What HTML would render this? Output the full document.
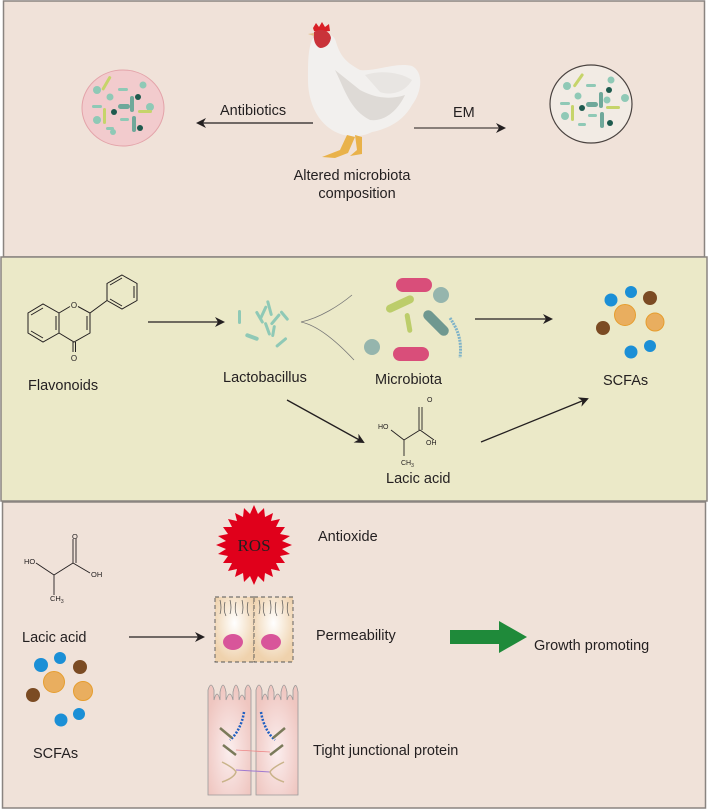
<!DOCTYPE html>
<html><head><meta charset="utf-8"><style>
html,body{margin:0;padding:0;background:#fff}
svg{display:block}
text{font-family:"Liberation Sans",sans-serif;fill:#231f20}
</style></head><body>
<svg width="708" height="810" viewBox="0 0 708 810" xmlns="http://www.w3.org/2000/svg">
<defs>
<marker id="ah" markerWidth="10" markerHeight="10" refX="8" refY="5" orient="auto" markerUnits="userSpaceOnUse"><path d="M0,0 L10,5 L0,10 L3,5 Z" fill="#231f20"/></marker>
<radialGradient id="cg" cx="50%" cy="40%" r="60%"><stop offset="0" stop-color="#fff"/><stop offset="1" stop-color="#efd2ad"/></radialGradient>
<radialGradient id="vg" cx="50%" cy="60%" r="60%"><stop offset="0" stop-color="#fbeeee"/><stop offset="1" stop-color="#efc6c0"/></radialGradient>
</defs>
<rect x="0" y="0" width="708" height="810" fill="#fff"/>
<rect x="3.5" y="1" width="701" height="256" fill="#f0e2d9" stroke="#8a8480" stroke-width="1.5"/>
<rect x="1" y="257" width="706" height="244" fill="#ebe9c8" stroke="#8a8480" stroke-width="1.5"/>
<rect x="2.5" y="502" width="703" height="306" fill="#f0e2d9" stroke="#8a8480" stroke-width="1.5"/>

<!-- TOP -->
<ellipse cx="123" cy="108" rx="41" ry="38" fill="#f2cbcd" stroke="#e3a3a9" stroke-width="1"/>
<g fill="#8fc9b6">
<circle cx="97" cy="90" r="4"/><circle cx="110" cy="97" r="3.5"/><circle cx="143" cy="85" r="3.5"/><circle cx="97" cy="120" r="4"/><circle cx="150" cy="107" r="4"/><circle cx="113" cy="132" r="3"/>
<rect x="92" y="105" width="10" height="3" rx="1.5"/><rect x="118" y="88" width="10" height="3" rx="1.5"/><rect x="120" y="118" width="9" height="3" rx="1.5"/><rect x="106" y="127" width="8" height="3" rx="1.5"/>
<rect x="130" y="96" width="4" height="16" rx="2" fill="#6fa89a"/><rect x="132" y="116" width="4" height="16" rx="2" fill="#6fa89a"/><rect x="118" y="104" width="12" height="5" rx="2.5" fill="#6fa89a"/>
</g>
<rect x="105" y="75" width="3" height="16" rx="1.5" fill="#c6d46a" transform="rotate(30 106 83)"/>
<rect x="103" y="108" width="3" height="16" rx="1.5" fill="#c6d46a"/>
<rect x="138" y="110" width="14" height="3" rx="1.5" fill="#c6d46a"/>
<circle cx="138" cy="97" r="3" fill="#1e5a4e"/><circle cx="114" cy="112" r="3" fill="#1e5a4e"/><circle cx="140" cy="128" r="3" fill="#1e5a4e"/>

<ellipse cx="591" cy="104" rx="41" ry="39" fill="#f2ebe4" stroke="#4a4340" stroke-width="1.2"/>
<g fill="#8fc9b6">
<circle cx="567" cy="86" r="4"/><circle cx="578" cy="96" r="3.5"/><circle cx="611" cy="80" r="3.5"/><circle cx="565" cy="116" r="4"/><circle cx="625" cy="98" r="4"/><circle cx="607" cy="100" r="3.5"/>
<rect x="560" y="102" width="10" height="3" rx="1.5"/><rect x="586" y="84" width="10" height="3" rx="1.5"/><rect x="588" y="114" width="9" height="3" rx="1.5"/><rect x="578" y="123" width="8" height="3" rx="1.5"/>
<rect x="599" y="92" width="4" height="16" rx="2" fill="#6fa89a"/><rect x="600" y="112" width="4" height="16" rx="2" fill="#6fa89a"/><rect x="586" y="102" width="12" height="5" rx="2.5" fill="#6fa89a"/>
</g>
<rect x="577" y="72" width="3" height="16" rx="1.5" fill="#c6d46a" transform="rotate(35 578 80)"/>
<rect x="571" y="105" width="3" height="16" rx="1.5" fill="#c6d46a"/>
<rect x="606" y="106" width="14" height="3" rx="1.5" fill="#c6d46a"/>
<circle cx="609" cy="90" r="3" fill="#1e5a4e"/><circle cx="582" cy="108" r="3" fill="#1e5a4e"/><circle cx="610" cy="123" r="3" fill="#1e5a4e"/>

<line x1="313" y1="123" x2="198" y2="123" stroke="#231f20" stroke-width="1.3" marker-end="url(#ah)"/>
<text x="220" y="115" font-size="14.5">Antibiotics</text>
<line x1="414" y1="128" x2="504" y2="128" stroke="#4a4340" stroke-width="1.3" marker-end="url(#ah)"/>
<text x="453" y="117" font-size="14.5">EM</text>

<!-- chicken -->
<g>
<path d="M312,40 C318,30 334,32 336,42 C340,55 345,62 360,70 C375,72 395,62 412,66 C424,72 422,92 412,105 C405,118 392,128 372,132 C360,138 345,138 332,130 C316,120 308,100 308,80 C308,62 308,50 312,40 Z" fill="#f2f0ee"/>
<path d="M335,70 C345,90 350,110 370,120 C385,122 398,110 405,95 C390,100 375,98 360,90 Z" fill="#dedad6"/>
<path d="M365,75 C380,70 400,72 412,80 C405,92 392,96 380,92 Z" fill="#e8e5e2"/>
<path d="M313,28 L316,23 L319,27 L322,22 L325,27 L329,24 L330,31 L320,32 L314,31 Z" fill="#d91f26"/>
<path d="M314,32 C320,28 330,30 331,38 C330,44 326,48 320,48 C315,46 313,40 314,32 Z" fill="#c9333a"/>
<path d="M308,34 L314,33 L314,36 Z" fill="#e2c08a"/>
<path d="M347,135 L340,150 L322,157 L335,158 L348,153 L355,137 Z" fill="#e9b24a"/>
<path d="M355,135 L357,150 L350,156 L362,154 L362,137 Z" fill="#e9b24a"/>
</g>
<text x="352" y="180" font-size="14.5" text-anchor="middle">Altered microbiota</text>
<text x="357" y="198" font-size="14.5" text-anchor="middle">composition</text>

<!-- MIDDLE: flavone -->
<g stroke="#231f20" stroke-width="1" fill="none">
<polygon points="59,313 59,333 43,342 28,333 28,313 43,304"/>
<line x1="31" y1="315" x2="43" y2="308"/><line x1="31" y1="331" x2="43" y2="338"/><line x1="56" y1="316" x2="56" y2="330"/>
<polyline points="59,313 70,306.5"/><polyline points="78,306.5 90,313 90,333 74,342 59,333"/>
<line x1="87" y1="316" x2="87" y2="330"/>
<line x1="90" y1="313" x2="107" y2="300.5"/>
<polygon points="122,275 137,283.5 137,300.5 122,309 107,300.5 107,283.5"/>
<line x1="110" y1="285" x2="122" y2="278"/><line x1="134" y1="286" x2="134" y2="298"/><line x1="110" y1="299" x2="122" y2="306"/>
<line x1="73" y1="342" x2="73" y2="352"/><line x1="75.5" y1="342" x2="75.5" y2="352"/>
</g>
<text x="74" y="308" font-size="8" text-anchor="middle">O</text>
<text x="74" y="361" font-size="8" text-anchor="middle">O</text>
<text x="28" y="390" font-size="14.5">Flavonoids</text>

<line x1="148" y1="322" x2="223" y2="322" stroke="#231f20" stroke-width="1.3" marker-end="url(#ah)"/>
<g fill="#8fc9b6">
<rect x="238" y="310" width="3" height="14" rx="1.5"/><rect x="245" y="335" width="14" height="4" rx="2" transform="rotate(20 252 337)"/>
<rect x="258" y="310" width="3" height="14" rx="1.5" transform="rotate(-30 260 317)"/>
<rect x="262" y="305" width="3" height="15" rx="1.5" transform="rotate(25 263 312)"/>
<rect x="268" y="300" width="3" height="16" rx="1.5" transform="rotate(-15 270 308)"/>
<rect x="274" y="312" width="3" height="14" rx="1.5" transform="rotate(40 275 319)"/>
<rect x="266" y="322" width="3" height="14" rx="1.5" transform="rotate(-20 267 329)"/>
<rect x="280" y="335" width="3" height="14" rx="1.5" transform="rotate(50 281 342)"/>
<rect x="283" y="310" width="3" height="12" rx="1.5" transform="rotate(-40 284 316)"/>
<rect x="272" y="325" width="3" height="12" rx="1.5" transform="rotate(10 273 331)"/>
</g>
<text x="223" y="382" font-size="14.5">Lactobacillus</text>
<path d="M301,322 C320,318 340,305 352,295" stroke="#777" stroke-width="0.8" fill="none"/>
<path d="M301,322 C320,326 340,345 354,360" stroke="#777" stroke-width="0.8" fill="none"/>

<rect x="396" y="278" width="36" height="14" rx="7" fill="#d94e7a"/>
<rect x="393" y="347" width="36" height="14" rx="7" fill="#d94e7a"/>
<circle cx="441" cy="295" r="8" fill="#95b5ad"/><circle cx="372" cy="347" r="8" fill="#95b5ad"/>
<rect x="385" y="300" width="30" height="8" rx="4" fill="#bccd6a" transform="rotate(-25 400 304)"/>
<rect x="406" y="313" width="5" height="20" rx="2.5" fill="#bccd6a" transform="rotate(-10 408 323)"/>
<rect x="420" y="318" width="32" height="10" rx="5" fill="#6f9890" transform="rotate(45 436 323)"/>
<path d="M450,318 C458,330 462,340 460,358" stroke="#7fb3c9" stroke-width="3" fill="none" stroke-dasharray="2,1"/>
<text x="375" y="384" font-size="14.5">Microbiota</text>

<line x1="475" y1="319" x2="551" y2="319" stroke="#231f20" stroke-width="1.3" marker-end="url(#ah)"/>
<circle cx="611" cy="300" r="6.5" fill="#1b8fd6"/><circle cx="631" cy="292" r="6" fill="#1b8fd6"/>
<circle cx="650" cy="298" r="7" fill="#7b4b23"/><circle cx="625" cy="315" r="10.5" fill="#e9ae5f" stroke="#e69d2e"/>
<circle cx="655" cy="322" r="9" fill="#e9ae5f" stroke="#e69d2e"/><circle cx="603" cy="328" r="7" fill="#7b4b23"/>
<circle cx="650" cy="346" r="6" fill="#1b8fd6"/><circle cx="631" cy="352" r="6.5" fill="#1b8fd6"/>
<text x="603" y="385" font-size="14.5">SCFAs</text>

<line x1="287" y1="400" x2="363" y2="442" stroke="#231f20" stroke-width="1.3" marker-end="url(#ah)"/>
<g stroke="#231f20" stroke-width="0.9" fill="none">
<line x1="391" y1="430" x2="404" y2="440"/><line x1="404" y1="440" x2="420" y2="430"/><line x1="420" y1="430" x2="434" y2="440"/>
<line x1="404" y1="440" x2="404" y2="456"/><line x1="419" y1="407" x2="419" y2="430"/><line x1="422" y1="407" x2="422" y2="430"/>
</g>
<text x="378" y="429" font-size="7">HO</text><text x="426" y="445" font-size="7">OH</text>
<text x="427" y="402" font-size="7">O</text><text x="401" y="465" font-size="7">CH<tspan font-size="5" dy="2">3</tspan></text>
<text x="386" y="483" font-size="14.5">Lacic acid</text>
<line x1="481" y1="442" x2="587" y2="399" stroke="#231f20" stroke-width="1.3" marker-end="url(#ah)"/>

<!-- BOTTOM -->
<g stroke="#231f20" stroke-width="0.9" fill="none">
<line x1="36" y1="563" x2="54" y2="575"/><line x1="54" y1="575" x2="73" y2="563"/><line x1="73" y1="563" x2="90" y2="573"/>
<line x1="54" y1="575" x2="54" y2="595"/><line x1="73" y1="539" x2="73" y2="563"/><line x1="76" y1="539" x2="76" y2="563"/>
</g>
<text x="24" y="564" font-size="7.5">HO</text><text x="91" y="577" font-size="7.5">OH</text>
<text x="72" y="539" font-size="7.5">O</text><text x="50" y="601" font-size="7.5">CH<tspan font-size="5" dy="2">3</tspan></text>
<text x="22" y="642" font-size="14.5">Lacic acid</text>
<circle cx="41" cy="665" r="7" fill="#1b8fd6"/><circle cx="60" cy="658" r="6" fill="#1b8fd6"/>
<circle cx="80" cy="667" r="7" fill="#7b4b23"/><circle cx="54" cy="682" r="10.5" fill="#e9ae5f" stroke="#e69d2e"/>
<circle cx="83" cy="691" r="9.5" fill="#e9ae5f" stroke="#e69d2e"/><circle cx="33" cy="695" r="7" fill="#7b4b23"/>
<circle cx="79" cy="714" r="6" fill="#1b8fd6"/><circle cx="61" cy="720" r="6.5" fill="#1b8fd6"/>
<text x="33" y="758" font-size="14.5">SCFAs</text>

<polygon points="254,505 258,514 264,508 265,517 273,513 271,521 280,519 276,527 285,527 280,534 290,536 282,541 292,545 282,549 290,554 280,556 285,563 276,563 280,571 271,569 273,577 265,573 264,582 258,576 254,585 250,576 244,582 243,573 235,577 237,569 228,571 232,563 223,563 228,556 218,554 226,549 216,545 226,541 218,536 228,534 223,527 232,527 228,519 237,521 235,513 243,517 244,508 250,514" fill="#e0001b"/>
<text x="254" y="551" font-size="17" text-anchor="middle" style="font-family:'Liberation Serif',serif" fill="#f6d0d3">ROS</text>
<text x="318" y="541" font-size="14.5">Antioxide</text>

<line x1="129" y1="637" x2="203" y2="637" stroke="#231f20" stroke-width="1.3" marker-end="url(#ah)"/>
<rect x="215" y="597" width="39" height="65" fill="url(#cg)" stroke="#555" stroke-dasharray="4,3" stroke-width="0.9"/>
<rect x="254" y="597" width="39" height="65" fill="url(#cg)" stroke="#555" stroke-dasharray="4,3" stroke-width="0.9"/>
<g stroke="#555" stroke-width="0.7" fill="none">
<path d="M220,600 q2,8 0,14 M225,602 q-2,8 1,14 M230,600 q2,8 0,14 M236,602 q-2,8 1,14 M242,600 q2,8 0,14 M248,602 q-2,8 1,14"/>
<path d="M259,600 q2,8 0,14 M264,602 q-2,8 1,14 M270,600 q2,8 0,14 M276,602 q-2,8 1,14 M282,600 q2,8 0,14 M288,602 q-2,8 1,14"/>
</g>
<ellipse cx="233" cy="642" rx="10" ry="8" fill="#d8559a"/>
<ellipse cx="271" cy="642" rx="10" ry="8" fill="#d8559a"/>
<text x="316" y="640" font-size="14.5">Permeability</text>
<polygon points="450,630 499,630 499,621 527,637 499,653 499,644 450,644" fill="#1f8a3a"/>
<text x="534" y="650" font-size="14.5">Growth promoting</text>

<path d="M208,795 L208,690 q3,-10 6,0 L214,700 q3,-12 6,0 L220,692 q3,-14 6,0 L226,700 q4,-12 7,0 L233,692 q3,-14 6,0 L239,700 q3,-10 6,0 L245,690 q3,-10 6,0 L251,795 Z" fill="url(#vg)" stroke="#999" stroke-width="0.8"/>
<path d="M256,795 L256,690 q3,-10 6,0 L262,700 q3,-12 6,0 L268,692 q3,-14 6,0 L274,700 q4,-12 7,0 L281,692 q3,-14 6,0 L287,700 q3,-10 6,0 L293,690 q3,-10 5,2 L298,795 Z" fill="url(#vg)" stroke="#999" stroke-width="0.8"/>
<g stroke="#1f5fc2" stroke-width="2.5" stroke-dasharray="2,1.5" fill="none">
<path d="M244,712 C242,725 236,735 230,740"/><path d="M261,712 C263,725 269,735 275,740"/>
</g>
<g stroke="#7a7a5a" stroke-width="2.5">
<line x1="220" y1="728" x2="232" y2="738"/><line x1="285" y1="728" x2="273" y2="738"/>
<line x1="223" y1="745" x2="236" y2="755"/><line x1="283" y1="745" x2="270" y2="755"/>
</g>
<path d="M236,750 L270,752" stroke="#e88" stroke-width="0.8"/>
<path d="M236,770 L270,772" stroke="#a07ad0" stroke-width="1"/>
<path d="M222,762 q12,6 14,10 q-2,6 -14,10 M284,762 q-12,6 -14,10 q2,6 14,10" stroke="#c9b38a" stroke-width="1.5" fill="none"/>
<text x="313" y="755" font-size="14.5">Tight junctional protein</text>
</svg>
</body></html>
